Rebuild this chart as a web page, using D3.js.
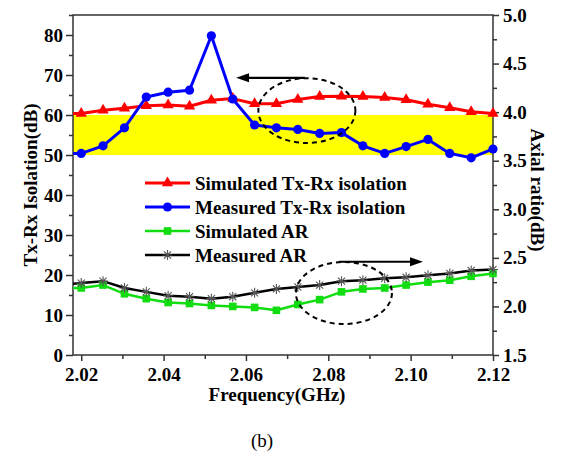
<!DOCTYPE html>
<html>
<head>
<meta charset="utf-8">
<script src="https://cdn.jsdelivr.net/npm/d3@7"></script>
<style>
  html, body { margin: 0; padding: 0; background: #fff; }
  svg { display: block; }
  text { font-family: "Liberation Serif", "Times New Roman", serif; }
</style>
</head>
<body>
<svg id="chart" width="563" height="456"></svg>
<script>
// ---- data ----
const freq = [2.0147, 2.0200, 2.0253, 2.0305, 2.0358, 2.0411, 2.0463, 2.0516, 2.0568, 2.0621, 2.0674,
              2.0726, 2.0779, 2.0832, 2.0884, 2.0937, 2.0989, 2.1042, 2.1095, 2.1147, 2.1200];
const simIso  = [60.3, 60.4, 61.2, 61.7, 62.3, 62.5, 62.2, 63.7, 64.1, 62.8, 62.8,
                 63.9, 64.6, 64.7, 64.6, 64.4, 63.8, 62.7, 61.8, 60.8, 60.4];
const measIso = [50.3, 50.4, 52.3, 56.8, 64.5, 65.7, 66.2, 79.8, 64.0, 57.5, 56.8,
                 56.4, 55.4, 55.6, 52.3, 50.4, 52.1, 53.9, 50.4, 49.3, 51.5];
const simAR   = [2.19, 2.19, 2.22, 2.13, 2.08, 2.04, 2.03, 2.01, 2.00, 1.99, 1.96,
                 2.02, 2.07, 2.15, 2.18, 2.19, 2.22, 2.25, 2.27, 2.31, 2.34];
const measAR  = [2.22, 2.24, 2.26, 2.19, 2.15, 2.11, 2.10, 2.08, 2.10, 2.14, 2.18,
                 2.20, 2.22, 2.26, 2.27, 2.29, 2.30, 2.32, 2.34, 2.37, 2.38];
const bandRange = [50, 60];
const xTicks = [2.02, 2.04, 2.06, 2.08, 2.10, 2.12];
const xMinor = [2.03, 2.05, 2.07, 2.09, 2.11];
const yLTicks = [0, 10, 20, 30, 40, 50, 60, 70, 80];
const yLMinor = [5, 15, 25, 35, 45, 55, 65, 75, 85];
const yRTicks = [1.5, 2.0, 2.5, 3.0, 3.5, 4.0, 4.5, 5.0];
const yRMinor = [1.75, 2.25, 2.75, 3.25, 3.75, 4.25, 4.75];
const legendLabels = ["Simulated Tx-Rx isolation", "Measured Tx-Rx isolation", "Simulated AR", "Measured AR"];
const xTitle = "Frequency(GHz)", yLTitle = "Tx-Rx Isolation(dB)", yRTitle = "Axial ratio(dB)", caption = "(b)";

// ---- layout ----
const L = 73, R = 493, T = 15, B = 355;
const svg = d3.select("#chart");
const x = d3.scaleLinear().domain([2.018, 2.12]).range([L, R]);
const yL = d3.scaleLinear().domain([0, 85]).range([B, T]);
const yR = d3.scaleLinear().domain([1.5, 5.0]).range([B, T]);

svg.append("defs").append("clipPath").attr("id", "clip")
  .append("rect").attr("x", L).attr("y", T).attr("width", R - L).attr("height", B - T);

// yellow band
svg.append("rect").attr("x", L).attr("width", R - L)
  .attr("y", yL(bandRange[1])).attr("height", yL(bandRange[0]) - yL(bandRange[1]))
  .attr("fill", "#ffff00");

// axes
const axisColor = "#333";
function styleAxis(g) {
  g.select(".domain").remove();
  g.selectAll("line").attr("stroke", axisColor).attr("stroke-width", 1.5);
  g.selectAll("text").attr("fill", "#000").attr("font-size", 19).attr("font-weight", "bold");
}
svg.append("g").attr("transform", `translate(${L},0)`)
  .call(d3.axisLeft(yL).tickValues(yLTicks).tickSize(7).tickPadding(3).tickFormat(d3.format("d"))).call(styleAxis);
svg.append("g").attr("transform", `translate(${L},0)`)
  .call(d3.axisLeft(yL).tickValues(yLMinor).tickSize(4).tickFormat("")).call(styleAxis);
svg.append("g").attr("transform", `translate(${R},0)`)
  .call(d3.axisRight(yR).tickValues(yRTicks).tickSize(6).tickPadding(4).tickFormat(d3.format(".1f"))).call(styleAxis);
svg.append("g").attr("transform", `translate(${R},0)`)
  .call(d3.axisRight(yR).tickValues(yRMinor).tickSize(4).tickFormat("")).call(styleAxis);
svg.append("g").attr("transform", `translate(0,${B})`)
  .call(d3.axisBottom(x).tickValues(xTicks).tickSize(6).tickPadding(7).tickFormat(d3.format(".2f"))).call(styleAxis);
svg.append("g").attr("transform", `translate(0,${B})`)
  .call(d3.axisBottom(x).tickValues(xMinor).tickSize(4).tickFormat("")).call(styleAxis);

// frame
svg.append("rect").attr("x", L).attr("y", T).attr("width", R - L).attr("height", B - T)
  .attr("fill", "none").attr("stroke", axisColor).attr("stroke-width", 1.5);

// series
const series = [
  { vals: simIso,  scale: yL, color: "#ff0000", mk: "tri",  width: 3 },
  { vals: measIso, scale: yL, color: "#0000ff", mk: "circ", width: 3 },
  { vals: simAR,   scale: yR, color: "#11dd11", mk: "sq",   width: 2.5 },
  { vals: measAR,  scale: yR, color: "#000000", mk: "star", width: 2.5 }
];

function drawMarker(g, type, color, cx, cy) {
  if (type === "tri") {
    g.append("path").attr("d", d3.symbol(d3.symbolTriangle, 55)()).attr("transform", `translate(${cx},${cy})`).attr("fill", color);
  } else if (type === "circ") {
    g.append("circle").attr("cx", cx).attr("cy", cy).attr("r", 4.6).attr("fill", color);
  } else if (type === "sq") {
    g.append("rect").attr("x", cx - 3.8).attr("y", cy - 3.8).attr("width", 7.6).attr("height", 7.6).attr("fill", color);
  } else {
    const r = 5;
    const d = r * Math.SQRT1_2;
    const p = `M${cx - r},${cy}L${cx + r},${cy}M${cx},${cy - r}L${cx},${cy + r}M${cx - d},${cy - d}L${cx + d},${cy + d}M${cx - d},${cy + d}L${cx + d},${cy - d}`;
    g.append("path").attr("d", p).attr("stroke", "#555").attr("stroke-width", 1.1).attr("fill", "none");
  }
}

const plotG = svg.append("g");
series.forEach(s => {
  const line = d3.line().x((d, i) => x(freq[i])).y(d => s.scale(d));
  plotG.append("path").datum(s.vals).attr("d", line).attr("clip-path", "url(#clip)")
    .attr("fill", "none").attr("stroke", s.color).attr("stroke-width", s.width).attr("stroke-linejoin", "round");
});
series.forEach(s => {
  s.vals.forEach((v, i) => {
    if (freq[i] < x.domain()[0]) return;
    drawMarker(plotG, s.mk, s.color, x(freq[i]), s.scale(v));
  });
});

// annotations (data units)
const ellipses = [
  { f: 2.0748, v: 61.1, rf: 0.01178, rv: 8.1, scale: yL },
  { f: 2.0838, v: 2.138, rf: 0.01166, rv: 0.319, scale: yR }
];
ellipses.forEach(e => {
  const cx = x(e.f), cy = e.scale(e.v);
  svg.append("ellipse").attr("cx", cx).attr("cy", cy)
    .attr("rx", x(e.f + e.rf) - cx).attr("ry", cy - e.scale(e.v + e.rv))
    .attr("fill", "none").attr("stroke", "#000").attr("stroke-width", 2).attr("stroke-dasharray", "5,4");
});
const arrows = [
  { f0: 2.0743, f1: 2.0576, v: 69.3, scale: yL },
  { f0: 2.0826, f1: 2.1030, v: 2.46, scale: yR }
];
arrows.forEach(a => {
  const x0 = x(a.f0), x1 = x(a.f1), y0 = a.scale(a.v);
  const dir = Math.sign(x1 - x0);
  const hl = 13, hw = 4.5;
  svg.append("line").attr("x1", x0).attr("x2", x1 - dir * hl + dir).attr("y1", y0).attr("y2", y0)
    .attr("stroke", "#000").attr("stroke-width", 2.2);
  svg.append("path").attr("d", `M${x1},${y0}L${x1 - dir * hl},${y0 - hw}L${x1 - dir * hl},${y0 + hw}Z`).attr("fill", "#000");
});

// legend
const legG = svg.append("g");
series.forEach((s, i) => {
  const ly = 183 + i * 24;
  legG.append("line").attr("x1", 145).attr("x2", 190).attr("y1", ly).attr("y2", ly)
    .attr("stroke", s.color).attr("stroke-width", s.width);
  drawMarker(legG, s.mk, s.color, 167.5, ly);
  legG.append("text").attr("x", 195).attr("y", ly).attr("dy", "0.35em")
    .attr("font-size", 19).attr("font-weight", "bold").text(legendLabels[i]);
});

// titles
svg.append("text").attr("transform", "translate(30,185) rotate(-90)").attr("text-anchor", "middle")
  .attr("dy", "0.35em").attr("font-size", 19).attr("font-weight", "bold").text(yLTitle);
svg.append("text").attr("transform", "translate(538,190) rotate(90)").attr("text-anchor", "middle")
  .attr("dy", "0.35em").attr("font-size", 19).attr("font-weight", "bold").text(yRTitle);
svg.append("text").attr("x", 277).attr("y", 401).attr("text-anchor", "middle")
  .attr("font-size", 19).attr("font-weight", "bold").text(xTitle);
svg.append("text").attr("x", 262).attr("y", 447).attr("text-anchor", "middle")
  .attr("font-size", 19).text(caption);
</script>
</body>
</html>
